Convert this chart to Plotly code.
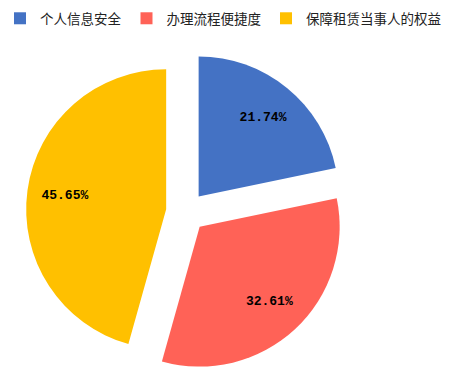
import plotly.graph_objects as go

labels = ["个人信息安全", "办理流程便捷度", "保障租赁当事人的权益"]
values = [10, 15, 21]
colors = ["#4472C4", "#FF6257", "#FFC000"]
pulls = [0.143, 0.143, 0.143]

W, H = 452, 380
pie_domain = dict(x=[26 / W, 346 / W], y=[0, 1])

fig = go.Figure()
# visible slices
fig.add_trace(go.Pie(
    labels=labels,
    values=values,
    sort=False,
    direction="clockwise",
    rotation=0,
    pull=pulls,
    domain=pie_domain,
    marker=dict(colors=colors, line=dict(width=0)),
    textinfo="none",
    hoverinfo="label+percent",
    showlegend=True,
))
# transparent overlay used only to place the percentage labels further out
fig.add_trace(go.Pie(
    labels=labels,
    values=values,
    sort=False,
    direction="clockwise",
    rotation=0,
    pull=pulls,
    domain=pie_domain,
    hole=0.46,
    marker=dict(colors=["rgba(0,0,0,0)"] * 3, line=dict(width=0)),
    texttemplate="%{percent:.2%}",
    textposition="inside",
    insidetextorientation="horizontal",
    textfont=dict(family="Liberation Mono", size=13, color="#000000", weight="bold"),
    hoverinfo="skip",
    showlegend=False,
))

fig.update_layout(
    width=W, height=H,
    margin=dict(l=0, r=0, t=52, b=8),
    paper_bgcolor="white",
    plot_bgcolor="white",
    showlegend=True,
    legend=dict(
        orientation="h",
        xref="paper", yref="container",
        x=0, xanchor="left",
        y=1 - 3 / H, yanchor="top",
        font=dict(family="Noto Sans CJK SC", size=13.5, color="#222222"),
        itemclick=False,
        tracegroupgap=0,
    ),
)

fig.write_html("out.html")
